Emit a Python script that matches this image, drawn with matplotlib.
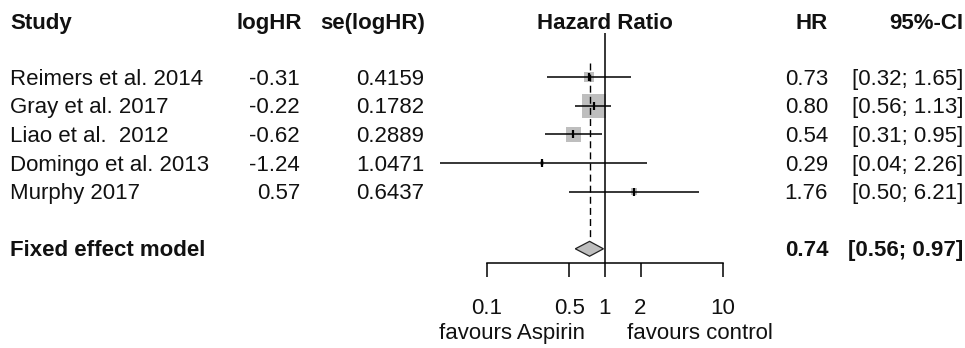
import numpy as np
import matplotlib.pyplot as plt
from matplotlib import transforms

plt.rcParams['font.family'] = ['Liberation Sans', 'DejaVu Sans']

# study data
studies = ["Reimers et al. 2014", "Gray et al. 2017", "Liao et al.  2012",
           "Domingo et al. 2013", "Murphy 2017"]
loghr = [-0.31, -0.22, -0.62, -1.24, 0.57]
se_loghr = [0.4159, 0.1782, 0.2889, 1.0471, 0.6437]
hr = [0.73, 0.80, 0.54, 0.29, 1.76]
ci_lo = [0.32, 0.56, 0.31, 0.04, 0.50]
ci_hi = [1.65, 1.13, 0.95, 2.26, 6.21]

fixed_label = "Fixed effect model"
fixed_hr = 0.74
fixed_lo = 0.56
fixed_hi = 0.97

ticks = [0.1, 0.5, 1, 2, 10]
tick_labels = ["0.1", "0.5", "1", "2", "10"]
label_left = "favours Aspirin"
label_right = "favours control"

headers = ["Study", "logHR", "se(logHR)", "Hazard Ratio", "HR", "95%-CI"]

W, H = 965, 348
fig = plt.figure(figsize=(W / 100, H / 100), dpi=100)
ax = fig.add_axes([0, 0, 1, 1])
ax.set_xscale('log')
px_dec = 118.0   # pixels per decade
x_ref = 605.0    # pixel of HR = 1
ax.set_xlim(10 ** (-x_ref / px_dec), 10 ** ((W - x_ref) / px_dec))
row_h = 28.6
top = 20.0
ax.set_ylim((H - top) / row_h, -top / row_h)
ax.axis('off')

fs = 16
tc = '#111111'
dy = 0.07  # small nudge so text sits on the row line like the original
tr = transforms.blended_transform_factory(fig.transFigure, ax.transData)


def fx(px):
    return px / W


# headers
y_head = 0.12
ax.text(fx(10), y_head, headers[0], transform=tr, fontsize=fs, fontweight='bold',
        ha='left', va='center', color=tc)
ax.text(fx(302), y_head, headers[1], transform=tr, fontsize=fs, fontweight='bold',
        ha='right', va='center', color=tc)
ax.text(fx(425), y_head, headers[2], transform=tr, fontsize=fs, fontweight='bold',
        ha='right', va='center', color=tc)
ax.text(1, y_head, headers[3], fontsize=fs, fontweight='bold',
        ha='center', va='center', color=tc)
ax.text(fx(828), y_head, headers[4], transform=tr, fontsize=fs, fontweight='bold',
        ha='right', va='center', color=tc)
ax.text(fx(963), y_head, headers[5], transform=tr, fontsize=fs, fontweight='bold',
        ha='right', va='center', color=tc)

# study rows
rows = np.arange(len(studies)) + 2
w = 1 / np.array(se_loghr) ** 2
side = 24 * np.sqrt(w / w.max())  # pixels
ax.scatter(hr, rows, marker='s', s=(side * 0.72) ** 2, color='#BEBEBE',
           linewidths=0, zorder=1)
ax.hlines(rows, ci_lo, ci_hi, color='black', lw=1.1, zorder=3)
ax.plot(hr, rows, linestyle='none', marker='|', markersize=6, mew=1.6,
        color='black', zorder=4)

for i, r in enumerate(rows):
    ax.text(fx(10), r + dy, studies[i], transform=tr, fontsize=fs, ha='left',
            va='center', color=tc)
    ax.text(fx(300), r + dy, f"{loghr[i]:.2f}", transform=tr, fontsize=fs,
            ha='right', va='center', color=tc)
    ax.text(fx(424), r + dy, f"{se_loghr[i]:.4f}", transform=tr, fontsize=fs,
            ha='right', va='center', color=tc)
    ax.text(fx(828), r + dy, f"{hr[i]:.2f}", transform=tr, fontsize=fs,
            ha='right', va='center', color=tc)
    ax.text(fx(963), r + dy, f"[{ci_lo[i]:.2f}; {ci_hi[i]:.2f}]", transform=tr,
            fontsize=fs, ha='right', va='center', color=tc)

# fixed effect row
y_fix = 8
dh = 0.26
ax.fill([fixed_lo, fixed_hr, fixed_hi, fixed_hr],
        [y_fix, y_fix - dh, y_fix, y_fix + dh],
        facecolor='#BEBEBE', edgecolor='#222222', lw=0.9, zorder=3)
ax.text(fx(10), y_fix + dy, fixed_label, transform=tr, fontsize=fs,
        fontweight='bold', ha='left', va='center', color=tc)
ax.text(fx(829), y_fix + dy, f"{fixed_hr:.2f}", transform=tr, fontsize=fs,
        fontweight='bold', ha='right', va='center', color=tc)
ax.text(fx(963), y_fix + dy, f"[{fixed_lo:.2f}; {fixed_hi:.2f}]", transform=tr,
        fontsize=fs, fontweight='bold', ha='right', va='center', color=tc)

# reference lines
ax.vlines(1, 0.45, 8.5, color='black', lw=1.1, zorder=2)
ax.vlines(fixed_hr, 1.5, y_fix - dh, color='black', lw=1.0,
          linestyles=(0, (5, 3)), zorder=2)

# x axis
y_ax = 8.5
ax.plot([ticks[0], ticks[-1]], [y_ax, y_ax], color='black', lw=1.1)
ax.vlines(ticks, y_ax, y_ax + 0.5, color='black', lw=1.1)
for t, lab in zip(ticks, tick_labels):
    ax.text(t, 10.07, lab, fontsize=fs, ha='center', va='center', color=tc)
ax.text(0.677, 10.95, label_left, fontsize=fs, ha='right', va='center', color=tc)
ax.text(1.54, 10.95, label_right, fontsize=fs, ha='left', va='center', color=tc)

fig.savefig('out.png', dpi=100)
